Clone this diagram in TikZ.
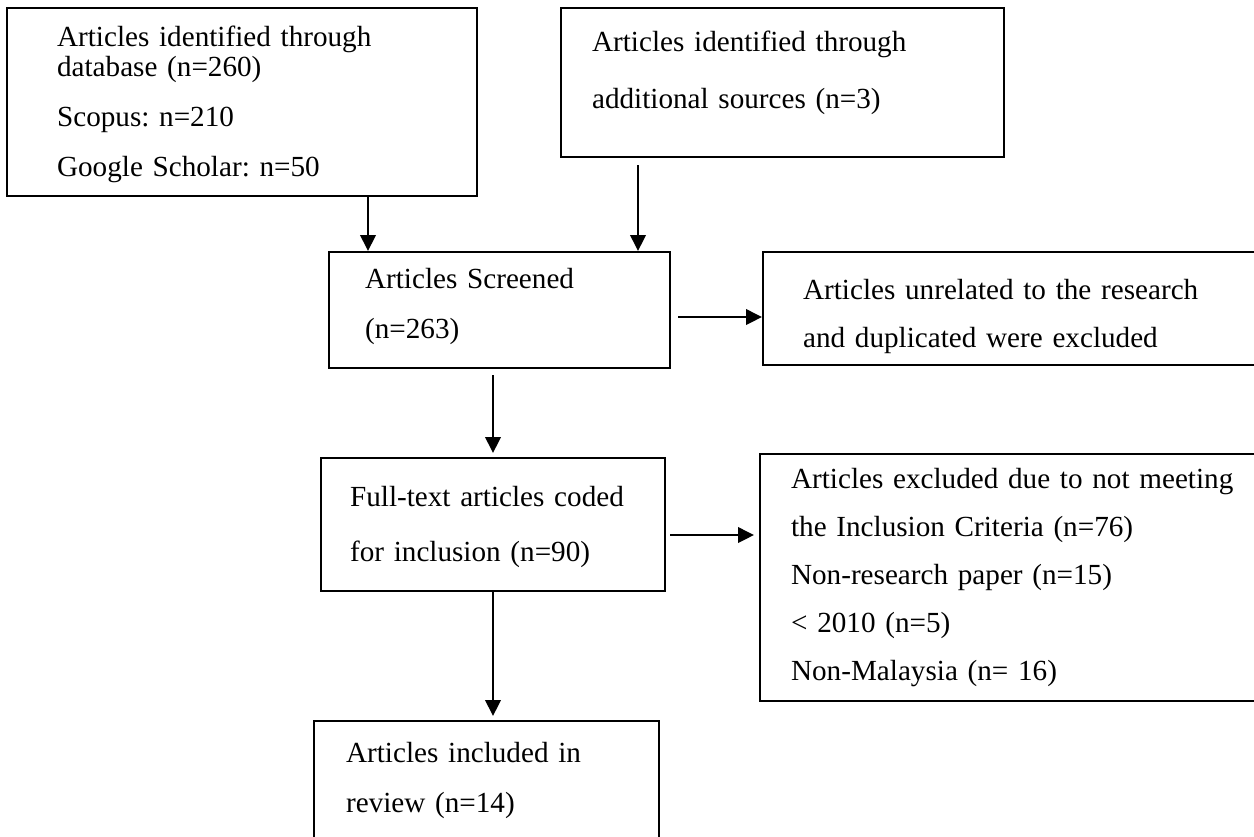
\documentclass[tikz,border=0pt]{standalone}
\usepackage{fontspec}
\setmainfont{Liberation Serif}
\usetikzlibrary{arrows.meta}

\newcommand{\topgap}[1]{\rule{0pt}{#1}}
\newcommand{\botgap}[1]{\rule[-#1]{0pt}{#1}}

\begin{document}
\begin{tikzpicture}[x=0.02cm, y=-0.02cm, >={Triangle[length=0.32cm,width=0.31cm]}, line width=1.15pt]
  \tikzset{box/.style={draw, line width=1.25pt, align=left, inner ysep=0pt, anchor=north west},
           lead/.style={font=\fontsize{16.6pt}{#1}\selectfont\frenchspacing}}
  \useasboundingbox (0,0) rectangle (1254,836);
  % identification
  \node[box, lead=1cm, inner xsep=1cm, text width=7.4cm] (db) at (6,7)
    {\topgap{0.76cm}Articles identified through\\[-0.4cm] database (n=260)\\ Scopus: n=210\\ Google Scholar: n=50\botgap{0.4cm}};
  \node[box, lead=1.14cm, inner xsep=0.62cm, text width=7.62cm] (extra) at (560,7)
    {\topgap{0.86cm}Articles identified through\\ additional sources (n=3)\botgap{0.98cm}};
  % screening
  \node[box, lead=1cm, inner xsep=0.72cm, text width=5.38cm] (screen) at (328,251)
    {\topgap{0.72cm}Articles Screened\\ (n=263)\botgap{0.6cm}};
  \node[box, lead=0.96cm, inner xsep=0.8cm, text width=9.2cm] (unrel) at (762,251)
    {\topgap{0.94cm}Articles unrelated to the research\\ and duplicated were excluded\botgap{0.36cm}};
  % eligibility
  \node[box, lead=1.1cm, inner xsep=0.58cm, text width=5.72cm] (full) at (320,457)
    {\topgap{0.96cm}Full-text articles coded\\ for inclusion (n=90)\botgap{0.6cm}};
  \node[box, lead=0.96cm, inner xsep=0.62cm, text width=9.6cm] (excl) at (759,453)
    {\topgap{0.68cm}Articles excluded due to not meeting\\ the Inclusion Criteria (n=76)\\ Non-research paper (n=15)\\ < 2010 (n=5)\\ Non-Malaysia (n= 16)\botgap{0.42cm}};
  % included
  \node[box, lead=1cm, inner xsep=0.64cm, text width=5.62cm] (incl) at (313,720)
    {\topgap{0.82cm}Articles included in\\ review (n=14)\botgap{0.78cm}};

  \coordinate (colA) at (368,0);
  \coordinate (colB) at (638,0);
  \coordinate (colM) at (493,0);
  \coordinate (rowS) at (0,317);
  \coordinate (rowF) at (0,535);

  \draw[->] (db.south -| colA) -- (screen.north -| colA);
  \draw[->, shorten <=0.14cm] (extra.south -| colB) -- (screen.north -| colB);
  \draw[->, shorten <=0.14cm] (screen.east |- rowS) -- (unrel.west |- rowS);
  \draw[->, shorten <=0.12cm, shorten >=0.08cm] (screen.south -| colM) -- (full.north -| colM);
  \draw[->, shorten <=0.08cm, shorten >=0.1cm] (full.east |- rowF) -- (excl.west |- rowF);
  \draw[->, shorten >=0.08cm] (full.south -| colM) -- (incl.north -| colM);
\end{tikzpicture}
\end{document}
